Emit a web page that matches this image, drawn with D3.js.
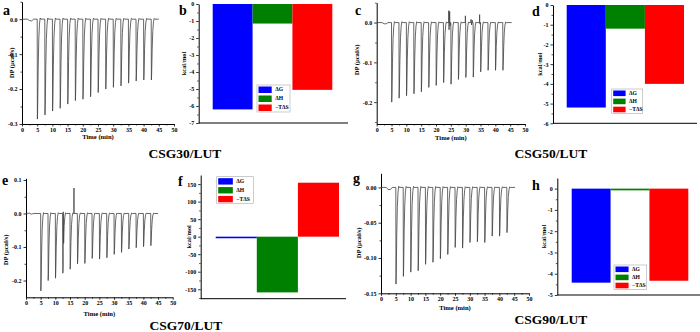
<!DOCTYPE html>
<html><head><meta charset="utf-8">
<script src="https://cdn.jsdelivr.net/npm/d3@7"></script>
<style>
html,body{margin:0;padding:0;background:#fff;}
svg{display:block;font-family:"Liberation Serif","Times New Roman",serif;}
</style></head>
<body><svg id="c" width="700" height="332"></svg>
<script>
// ---------------- DATA ----------------
const injTimes = [5,7.5,10,12.5,15,17.5,20,22.5,25,27.5,30,32.5,35,37.5,40,42.5];
const peaksA = [-0.286,-0.274,-0.263,-0.255,-0.243,-0.233,-0.229,-0.222,-0.210,-0.200,-0.195,-0.191,-0.183,-0.177,-0.174,-0.174];
const peaksC = [-0.200,-0.190,-0.184,-0.179,-0.174,-0.163,-0.158,-0.151,-0.155,-0.143,-0.138,-0.137,-0.124,-0.120,-0.120,-0.120];
const peaksE = [-0.231,-0.200,-0.193,-0.178,-0.166,-0.150,-0.149,-0.134,-0.136,-0.132,-0.122,-0.116,-0.106,-0.102,-0.099,-0.096];
const peaksG = [-0.137,-0.126,-0.120,-0.118,-0.109,-0.106,-0.101,-0.095,-0.085,-0.086,-0.078,-0.077,-0.078,-0.069,-0.069,-0.064];
// relative shape of one injection peak (time offset in min, fraction of depth)
const peakShapeT = [0, 0.06, 0.15, 0.32, 0.52, 0.75, 0.98, 1.2];
const peakShapeV = [0, 1.0, 0.9, 0.5, 0.2, 0.05, -0.012, 0];
// baseline before the first injection [time, DP]
const baseA = [[0,0.000],[1.8,0.000],[2.5,-0.004],[3.2,-0.005],[3.8,0.000],[45,0.000]];
const baseC = [[0,0.000],[1.8,0.000],[2.5,-0.003],[3.2,-0.003],[3.8,0.000],[45.5,0.000]];
const baseE = [[0,0.000],[1.2,0.001],[1.8,-0.002],[2.6,0.000],[45,0.000]];
const baseG = [[0,0.000],[1.8,0.000],[2.4,-0.003],[3.2,-0.003],[3.8,0.000],[45.3,0.000]];
// isolated artefact spikes [time, DP]
const spikesA = [];
const spikesC = [[24.3,0.030],[24.4,-0.018],[24.6,0.028],[24.75,-0.008],[29.9,0.017],[31.8,0.008],[32.0,-0.006],[32.2,0.006],[34.7,0.020],[34.85,-0.004]];
const spikesE = [[12.7,0.005],[16.35,0.076]];
const spikesG = [];
const timeTicks = [0,5,10,15,20,25,30,35,40,45,50];
// thermodynamics (kcal/mol)
const thermoLabels = ["ΔG","ΔH","−TΔS"];
const thermoColors = ["#0000ff","#008000","#ff0000"];
const thermoB = [-6.2,-1.15,-5.05];
const thermoD = [-5.2,-1.2,-4.0];
const thermoF = [-4.5,-159,154];
const thermoH = [-4.42,-0.08,-4.33];
const titles = ["CSG30/LUT","CSG50/LUT","CSG70/LUT","CSG90/LUT"];

// ---------------- DRAW ----------------
const svg = d3.select("#c");
const loc = d3.formatLocale({decimal:".",thousands:",",grouping:[3],currency:["",""],minus:"-"});
const FONT_T = 6;

function styleAxis(g){
  g.selectAll("path.domain").attr("stroke","#000").attr("stroke-width",1);
  g.selectAll(".tick line").attr("stroke","#000").attr("stroke-width",0.8);
  g.selectAll("text").attr("font-family","Liberation Serif").attr("font-weight","bold").attr("font-size",FONT_T).attr("fill","#000");
}

function buildTrace(peaks, base, spikes){
  let pts = base.map(d=>[d[0],d[1]]);
  injTimes.forEach((t,i)=>{
    peakShapeT.forEach((dt,j)=>pts.push([t+dt, peakShapeV[j]*peaks[i]]));
  });
  spikes.forEach(s=>{pts.push([s[0]-0.03,0]);pts.push([s[0],s[1]]);pts.push([s[0]+0.03,0]);});
  pts.sort((a,b)=>a[0]-b[0]);
  return pts;
}

function itcPanel(o){
  const x = d3.scaleLinear().domain([0,50]).range([o.x0,o.x1]);
  const y = d3.scaleLinear().domain(o.ydom).range([o.yBot,o.yTop]);
  const g = svg.append("g");
  g.append("g").attr("transform",`translate(0,${o.yBot})`)
    .call(d3.axisBottom(x).tickValues(d3.range(2.5,50,5)).tickSize(1.5).tickFormat(""))
    .call(a=>{a.select("path.domain").remove();a.selectAll("line").attr("stroke","#000").attr("stroke-width",0.7);});
  g.append("g").attr("transform",`translate(${o.x0},0)`)
    .call(d3.axisLeft(y).tickValues(o.minor).tickSize(1.5).tickFormat(""))
    .call(a=>{a.select("path.domain").remove();a.selectAll("line").attr("stroke","#000").attr("stroke-width",0.7);});
  g.append("g").attr("transform",`translate(0,${o.yBot})`)
    .call(d3.axisBottom(x).tickValues(timeTicks).tickSize(2.5).tickPadding(1).tickSizeOuter(0))
    .call(styleAxis);
  g.append("g").attr("transform",`translate(${o.x0},0)`)
    .call(d3.axisLeft(y).tickValues(o.yticks).tickSize(2.5).tickPadding(2).tickSizeOuter(0).tickFormat(loc.format(o.fmt)))
    .call(styleAxis);
  const pts = buildTrace(o.peaks,o.base,o.spikes);
  g.append("path").datum(pts)
    .attr("d",d3.line().x(d=>x(d[0])).y(d=>y(d[1])))
    .attr("fill","none").attr("stroke","#404040").attr("stroke-width",0.8).attr("stroke-linejoin","round");
  g.append("text").attr("x",(o.x0+o.x1)/2).attr("y",o.xlabY).attr("text-anchor","middle")
    .attr("font-size",6.6).attr("font-weight","bold").text("Time (min)");
  g.append("text").attr("transform",`translate(${o.ylabX},${o.ylabY}) rotate(-90)`).attr("text-anchor","middle")
    .attr("font-size",6.6).attr("font-weight","bold").text("DP (μcal/s)");
  g.append("text").attr("x",o.lx).attr("y",o.ly).attr("font-size",14).attr("font-weight","bold").text(o.letter);
}

function barPanel(o){
  const y = d3.scaleLinear().domain(o.ydom).range([o.yBot,o.yTop]);
  const x = d3.scaleBand().domain(thermoLabels).range([o.b0,o.b1]).padding(0);
  const g = svg.append("g");
  g.selectAll("rect.bar").data(o.vals).join("rect")
    .attr("x",(d,i)=>x(thermoLabels[i])).attr("width",x.bandwidth())
    .attr("y",d=>Math.min(y(0),y(d))).attr("height",d=>Math.max(1.5,Math.abs(y(d)-y(0))))
    .attr("fill",(d,i)=>thermoColors[i]);
  g.append("g").attr("transform",`translate(${o.ax},0)`)
    .call(d3.axisLeft(y).tickValues(o.minor).tickSize(1.5).tickFormat(""))
    .call(a=>{a.select("path.domain").remove();a.selectAll("line").attr("stroke","#000").attr("stroke-width",0.7);});
  g.append("g").attr("transform",`translate(${o.ax},0)`)
    .call(d3.axisLeft(y).tickValues(o.yticks).tickSize(2.5).tickPadding(2).tickSizeOuter(0).tickFormat(loc.format("d")))
    .call(styleAxis);
  g.append("line").attr("x1",o.ax).attr("x2",o.xEnd).attr("y1",o.yBot).attr("y2",o.yBot).attr("stroke","#000").attr("stroke-width",1);
  g.append("text").attr("transform",`translate(${o.ylabX},${(o.yTop+o.yBot)/2}) rotate(-90)`).attr("text-anchor","middle")
    .attr("font-size",6.4).attr("font-weight","bold").text("kcal/mol");
  g.append("text").attr("x",o.lx).attr("y",o.ly).attr("font-size",14).attr("font-weight","bold").text(o.letter);
  const L = o.leg;
  g.append("rect").attr("x",L.x).attr("y",L.y).attr("width",L.w).attr("height",L.h)
    .attr("fill","#fff").attr("stroke","#aaa").attr("stroke-width",0.6);
  const rh = L.h/3;
  thermoLabels.forEach((lab,i)=>{
    g.append("rect").attr("x",L.x+1.5).attr("y",L.y+i*rh+1.5).attr("width",L.w*0.4).attr("height",rh-2.5).attr("fill",thermoColors[i]);
    g.append("text").attr("x",L.x+L.w*0.4+5).attr("y",L.y+i*rh+rh*0.72).attr("font-size",5.6).attr("font-weight","bold").text(lab);
  });
}

itcPanel({x0:22,x1:174,yTop:1.7,yBot:124,ydom:[-0.3,0.05],yticks:[0,-0.1,-0.2,-0.3],minor:[0.05,-0.05,-0.15,-0.25],fmt:".1f",
  peaks:peaksA,base:baseA,spikes:spikesA,xlabY:139,ylabX:14,ylabY:63,letter:"a",lx:3,ly:15});
itcPanel({x0:376.7,x1:525,yTop:2.7,yBot:124,ydom:[-0.255,0.05],yticks:[0,-0.1,-0.2],minor:[0.05,-0.05,-0.15,-0.25],fmt:".1f",
  peaks:peaksC,base:baseC,spikes:spikesC,xlabY:139.5,ylabX:359,ylabY:60,letter:"c",lx:355,ly:15});
itcPanel({x0:26,x1:172.7,yTop:178.3,yBot:297.3,ydom:[-0.25,0.105],yticks:[0.1,0,-0.1,-0.2],minor:[0.05,-0.05,-0.15],fmt:".1f",
  peaks:peaksE,base:baseE,spikes:spikesE,xlabY:316,ylabX:8,ylabY:250,letter:"e",lx:2,ly:185});
itcPanel({x0:381,x1:529,yTop:173.3,yBot:293.3,ydom:[-0.15,0.02],yticks:[0,-0.05,-0.1,-0.15],minor:[-0.025,-0.075,-0.125],fmt:".2f",
  peaks:peaksG,base:baseG,spikes:spikesG,xlabY:310,ylabX:361,ylabY:243,letter:"g",lx:353,ly:183});

barPanel({ax:198.7,yTop:4,yBot:123,ydom:[-7,0],yticks:d3.range(0,-8,-1),minor:d3.range(-0.5,-7,-1),b0:212.7,b1:332.3,xEnd:348,
  vals:thermoB,ylabX:186,letter:"b",lx:179,ly:15,leg:{x:257,y:85,w:33,h:27}});
barPanel({ax:553,yTop:5,yBot:123.3,ydom:[-6,0],yticks:d3.range(0,-7,-1),minor:d3.range(-0.5,-6,-1),b0:566.7,b1:684,xEnd:697,
  vals:thermoD,ylabX:542,letter:"d",lx:532,ly:16,leg:{x:611.7,y:89,w:31,h:24.3}});
barPanel({ax:200.7,yTop:175,yBot:298.7,ydom:[-177,176],yticks:d3.range(150,-151,-50),minor:d3.range(125,-176,-50),b0:215.7,b1:339,xEnd:346,
  vals:thermoF,ylabX:191,letter:"f",lx:178,ly:186,leg:{x:216.7,y:176.7,w:36.6,h:26.6}});
barPanel({ax:557.3,yTop:178,yBot:295,ydom:[-5,0.5],yticks:d3.range(0,-6,-1),minor:d3.range(-0.5,-5,-1),b0:571.7,b1:688.3,xEnd:700,
  vals:thermoH,ylabX:546,letter:"h",lx:532,ly:190,leg:{x:614,y:265,w:32.7,h:24.3}});

const titlePos = [[185,158],[551,158],[186,330],[551,324]];
titles.forEach((t,i)=>svg.append("text").attr("x",titlePos[i][0]).attr("y",titlePos[i][1]).attr("text-anchor","middle")
  .attr("font-size",13.5).attr("font-weight","bold").text(t));
</script></body></html>
